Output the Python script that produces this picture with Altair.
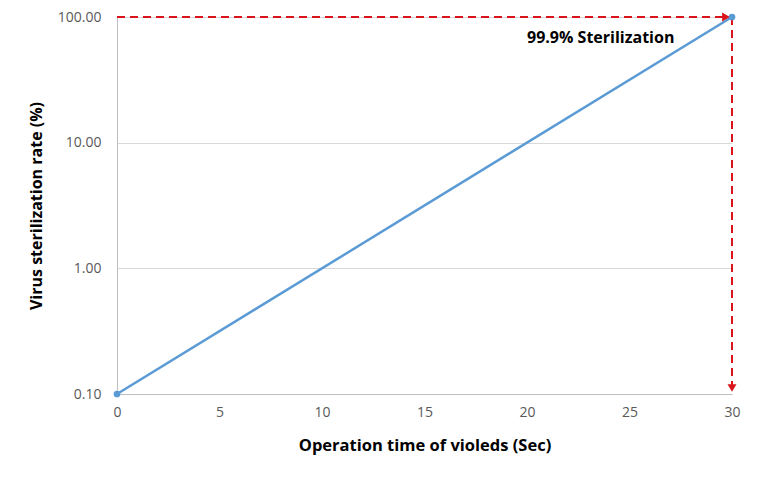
import altair as alt
import pandas as pd

time_sec = [0, 30]
rate_pct = [0.1, 100]
x_ticks = [0, 5, 10, 15, 20, 25, 30]
y_ticks = [0.1, 1, 10, 100]
annot_text = ["99.9% Sterilization"]
annot_x = [20]
annot_y = [100]

df = pd.DataFrame({"t": time_sec, "r": rate_pct})
FONT = "Open Sans"
RED = "#D9141B"
BLUE = "#5B9BD5"

xs = alt.Scale(domain=[0, 30], nice=False, zero=False)
ys = alt.Scale(type="log", domain=[0.1, 100], nice=False)

base = alt.Chart(df)

line = base.mark_line(color=BLUE, strokeWidth=2.5).encode(
    x=alt.X("t:Q", scale=xs,
            axis=alt.Axis(values=x_ticks, title="Operation time of violeds (Sec)", grid=False,
                          domainColor="#BFBFBF", ticks=False, labelPadding=11, labelFlush=False,
                          labelFont=FONT, labelFontSize=14, labelColor="#595959",
                          titleFont=FONT, titleFontSize=16.5, titleFontWeight="bold",
                          titleColor="#000000", titlePadding=18)),
    y=alt.Y("r:Q", scale=ys,
            axis=alt.Axis(values=y_ticks, format=".2f", title="Virus sterilization rate (%)",
                          grid=True, gridColor="#D9D9D9", domainColor="#BFBFBF", ticks=False,
                          labelPadding=16, labelFlush=False, labelFont=FONT, labelFontSize=14,
                          labelColor="#595959",
                          titleFont=FONT, titleFontSize=16, titleFontWeight="bold",
                          titleColor="#000000", titlePadding=13)),
)

# Dashed arrows from the end point
hdf = pd.DataFrame({"x1": [time_sec[0]], "x2": [time_sec[-1]], "y": [rate_pct[-1]]})
vdf = pd.DataFrame({"x": [time_sec[-1]], "y1": [rate_pct[-1]], "y2": [rate_pct[0]]})

hrule = alt.Chart(hdf).mark_rule(color=RED, strokeWidth=2, strokeDash=[8, 5]).encode(
    x=alt.X("x1:Q", scale=xs), x2="x2:Q", y=alt.Y("y:Q", scale=ys))
vrule = alt.Chart(vdf).mark_rule(color=RED, strokeWidth=2, strokeDash=[8, 5]).encode(
    x=alt.X("x:Q", scale=xs), y=alt.Y("y1:Q", scale=ys), y2="y2:Q")

harrow = alt.Chart(hdf).mark_point(shape="triangle-right", filled=True, color=RED,
                                   size=80, opacity=1, xOffset=-6).encode(
    x=alt.X("x2:Q", scale=xs), y=alt.Y("y:Q", scale=ys))
varrow = alt.Chart(vdf).mark_point(shape="triangle-down", filled=True, color=RED,
                                   size=80, opacity=1, yOffset=-6).encode(
    x=alt.X("x:Q", scale=xs), y=alt.Y("y2:Q", scale=ys))

pts = base.mark_point(filled=True, color=BLUE, size=45, opacity=1).encode(
    x=alt.X("t:Q", scale=xs), y=alt.Y("r:Q", scale=ys))

adf = pd.DataFrame({"x": annot_x, "y": annot_y, "txt": annot_text})
label = alt.Chart(adf).mark_text(align="left", baseline="middle", dy=21, font=FONT,
                                 fontSize=16, fontWeight="bold", color="#000000").encode(
    x=alt.X("x:Q", scale=xs), y=alt.Y("y:Q", scale=ys), text="txt:N")

chart = alt.layer(line, hrule, vrule, harrow, varrow, pts, label).properties(
    width=615, height=377,
    autosize=alt.AutoSizeParams(type="none"),
    padding={"left": 109, "top": 9, "right": 10, "bottom": 70},
).configure_view(stroke=None)

chart.save("out.html", embed_options={"renderer": "svg", "actions": False})
